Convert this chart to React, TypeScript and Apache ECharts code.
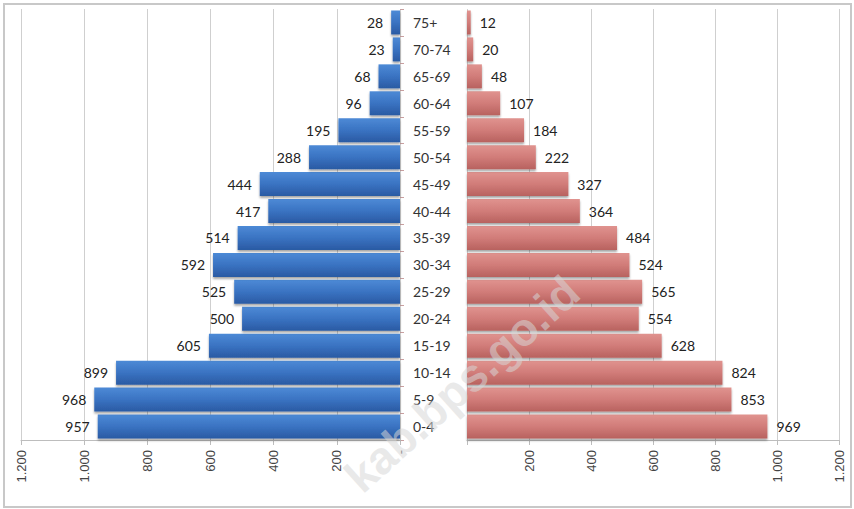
import React, { useEffect, useRef } from "react";
import * as echarts from "echarts";

const categories = ["0-4", "5-9", "10-14", "15-19", "20-24", "25-29", "30-34", "35-39", "40-44", "45-49", "50-54", "55-59", "60-64", "65-69", "70-74", "75+"];
const male = [957, 968, 899, 605, 500, 525, 592, 514, 417, 444, 288, 195, 96, 68, 23, 28];
const female = [969, 853, 824, 628, 554, 565, 524, 484, 364, 327, 222, 184, 107, 48, 20, 12];
const axisMax = 1200;
const axisStep = 200;
const watermark = "kab.bps.go.id";

const fmt = (n: number) => String(n).replace(/\B(?=(\d{3})+(?!\d))/g, ".");

export default function App() {
  const ref = useRef<HTMLDivElement>(null);
  useEffect(() => {
    document.body.style.margin = "0";
    const chart = echarts.init(ref.current!, null, { renderer: "svg" });
    const blue = new echarts.graphic.LinearGradient(0, 0, 0, 1, [
      { offset: 0, color: "#4d8ad6" },
      { offset: 0.5, color: "#3a73c2" },
      { offset: 1, color: "#2a5aa3" },
    ]);
    const red = new echarts.graphic.LinearGradient(0, 0, 0, 1, [
      { offset: 0, color: "#e0938f" },
      { offset: 0.5, color: "#d17c79" },
      { offset: 1, color: "#b8625f" },
    ]);
    const shadow = { shadowBlur: 2, shadowOffsetY: 2, shadowColor: "rgba(0,0,0,0.35)" };
    const xCommon = {
      type: "value",
      min: 0,
      max: axisMax,
      interval: axisStep,
      axisLine: { show: true, lineStyle: { color: "#bdbdbd" } },
      axisTick: { show: true, length: 5, lineStyle: { color: "#bdbdbd" } },
      splitLine: { show: true, lineStyle: { color: "#cfcfcf" } },
    };
    const labelFont = { fontFamily: "Lato", fontSize: 14, color: "#222" };
    chart.setOption({
      animation: false,
      backgroundColor: "#ffffff",
      grid: [
        { left: 21, right: 454, top: 9, bottom: 69 },
        { left: 467, right: 15, top: 9, bottom: 69 },
      ],
      xAxis: [
        {
          ...xCommon,
          gridIndex: 0,
          inverse: true,
          axisLabel: {
            rotate: 90,
            margin: 10,
            fontFamily: "Liberation Sans",
            fontSize: 13,
            color: "#444",
            formatter: (v: number) => (v === 0 ? "-" : fmt(v)),
          },
        },
        {
          ...xCommon,
          gridIndex: 1,
          axisLabel: {
            rotate: 90,
            margin: 10,
            fontFamily: "Liberation Sans",
            fontSize: 13,
            color: "#444",
            formatter: (v: number) => (v === 0 ? "" : fmt(v)),
          },
        },
      ],
      yAxis: [
        {
          type: "category",
          gridIndex: 0,
          data: categories,
          position: "right",
          axisLine: { show: false },
          axisTick: { show: true, length: 4, lineStyle: { color: "#c8a0a0" } },
          axisLabel: { show: true, align: "left", margin: 13, fontFamily: "Lato", fontSize: 14, color: "#333" },
        },
        {
          type: "category",
          gridIndex: 1,
          data: categories,
          position: "left",
          axisLine: { show: false },
          axisTick: { show: false },
          axisLabel: { show: false },
        },
      ],
      series: [
        {
          type: "bar",
          xAxisIndex: 0,
          yAxisIndex: 0,
          data: male,
          barCategoryGap: "11%",
          itemStyle: { color: blue, ...shadow },
          label: { show: true, position: "left", distance: 8, ...labelFont },
        },
        {
          type: "bar",
          xAxisIndex: 1,
          yAxisIndex: 1,
          data: female,
          barCategoryGap: "11%",
          itemStyle: { color: red, ...shadow },
          label: { show: true, position: "right", distance: 9, ...labelFont },
        },
      ],
      graphic: [
        {
          type: "rect",
          silent: true,
          z: -10,
          shape: { x: 4, y: 4, width: 847, height: 503 },
          style: { fill: "none", stroke: "#c8c8c8", lineWidth: 2 },
        },
        {
          type: "text",
          silent: true,
          z: 100,
          x: 462,
          y: 384,
          rotation: (42 * Math.PI) / 180,
          style: {
            text: watermark,
            align: "center",
            verticalAlign: "middle",
            fontFamily: "Liberation Sans",
            fontWeight: "bold",
            fontSize: 46,
            fill: "rgba(215,215,215,0.55)",
          },
        },
      ],
    });
    return () => chart.dispose();
  }, []);
  return <div ref={ref} style={{ width: 854, height: 509 }} />;
}
